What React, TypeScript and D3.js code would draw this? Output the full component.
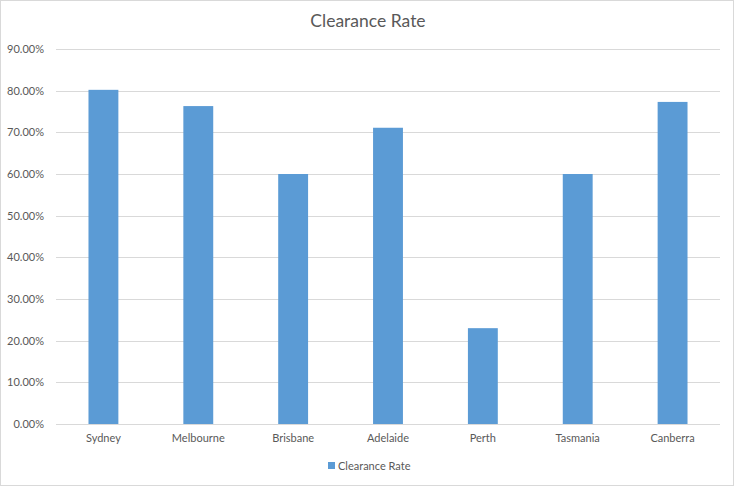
import React from "react";
import * as d3 from "d3";

const categories = ["Sydney", "Melbourne", "Brisbane", "Adelaide", "Perth", "Tasmania", "Canberra"];
const clearanceRate = [0.802, 0.763, 0.60, 0.711, 0.23, 0.60, 0.773];
const yTicks = [0, 0.1, 0.2, 0.3, 0.4, 0.5, 0.6, 0.7, 0.8, 0.9];
const seriesName = "Clearance Rate";
const chartTitle = "Clearance Rate";

const W = 735;
const H = 487;
const plot = { left: 56, right: 720, top: 49, bottom: 424 };
const FONT = "Lato, 'Open Sans', sans-serif";
const TEXT = "#595959";
const BAR = "#5b9bd5";

export default function App() {
  const x = d3.scaleBand<string>().domain(categories).range([plot.left, plot.right]).paddingInner(0.685).paddingOuter(0.3425);
  const y = d3.scaleLinear().domain([0, 0.9]).range([plot.bottom, plot.top]);
  const fmt = d3.format(".2%");
  return (
    <svg width={W} height={H} style={{ position: "absolute", left: 0, top: 0 }}>
      <rect x={0} y={0} width={W} height={H} fill="#fff" />
      <rect x={0.5} y={0.5} width={733} height={485} fill="none" stroke="#d9d9d9" />
      <text x={368} y={27} textAnchor="middle" fontFamily={FONT} fontSize={17.5} fill={TEXT}>{chartTitle}</text>
      {yTicks.map((t) => (
        <g key={t}>
          <line x1={plot.left} x2={plot.right} y1={Math.round(y(t)) + 0.5} y2={Math.round(y(t)) + 0.5} stroke="#d9d9d9" strokeWidth={1} />
          <text x={44} y={y(t) + 4} textAnchor="end" fontFamily={FONT} fontSize={11} fill={TEXT}>{fmt(t)}</text>
        </g>
      ))}
      {categories.map((c, i) => (
        <g key={c}>
          <rect x={x(c)} y={y(clearanceRate[i])} width={x.bandwidth()} height={y(0) - y(clearanceRate[i])} fill={BAR} />
          <text x={(x(c) as number) + x.bandwidth() / 2} y={442} textAnchor="middle" fontFamily={FONT} fontSize={11} fill={TEXT}>{c}</text>
        </g>
      ))}
      <rect x={328} y={462} width={7} height={7} fill={BAR} />
      <text x={338} y={469.5} fontFamily={FONT} fontSize={11} fill={TEXT}>{seriesName}</text>
    </svg>
  );
}
